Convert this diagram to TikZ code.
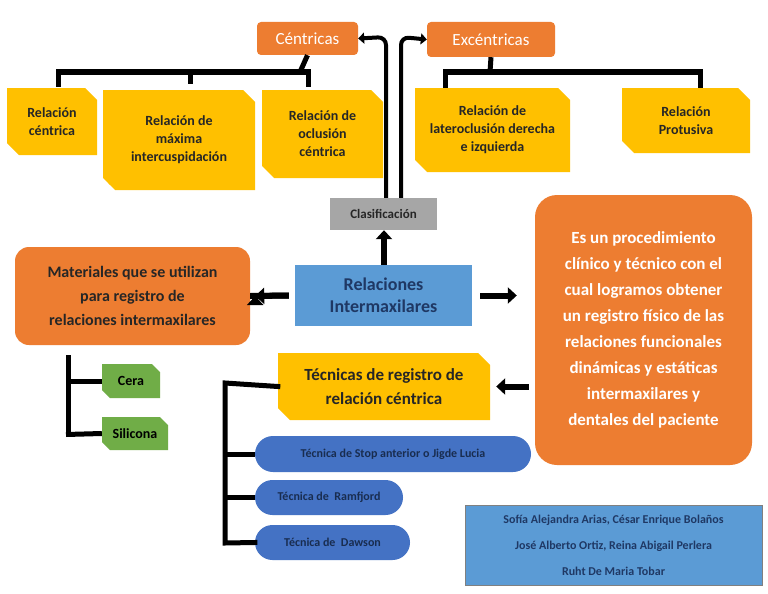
\documentclass[tikz,border=0pt]{standalone}
\usepackage{fontspec}
\setmainfont{Carlito}
\usetikzlibrary{shapes.misc,shapes.geometric,arrows.meta}
\definecolor{org}{HTML}{ED7D31}
\definecolor{yel}{HTML}{FFC000}
\definecolor{blu}{HTML}{4472C4}
\definecolor{lblu}{HTML}{5B9BD5}
\definecolor{grn}{HTML}{70AD47}
\definecolor{navy}{HTML}{1F3864}
\begin{document}
\begin{tikzpicture}[x=1pt,y=-1pt,
 every node/.style={inner sep=2pt,align=center,font=\bfseries},
 orng/.style={fill=org,rounded corners=4pt,text=white,draw=none},
 ybox/.style={chamfered rectangle,chamfered rectangle corners={north east,south west},chamfered rectangle xsep=6pt,chamfered rectangle ysep=6pt,fill=yel,draw=none,text=black!85,font=\bfseries\fontsize{14}{18}\selectfont},
 gbox/.style={chamfered rectangle,chamfered rectangle corners={north east,south west},chamfered rectangle xsep=4pt,chamfered rectangle ysep=4pt,fill=grn,draw=none,font=\bfseries\fontsize{14}{17}\selectfont},
 ell/.style={rounded rectangle,fill=blu,draw=none,text=navy!80!black,font=\bfseries\fontsize{12}{14}\selectfont},
 brk/.style={line width=5pt},
 barr/.style={line width=6pt,-{Triangle[width=16pt,length=9pt]}},
 carr/.style={line width=4pt,-{Triangle[width=11pt,length=6pt]},rounded corners=8pt}]
\useasboundingbox (0,0) rectangle (768,594);
\fill[white] (0,0) rectangle (768,594);
% top
\node[orng,minimum width=101pt,minimum height=33pt,font=\fontsize{17}{20}\selectfont] (cen) at (307.5,38.5) {Céntricas};
\node[orng,minimum width=128pt,minimum height=35pt,font=\fontsize{17}{20}\selectfont] (exc) at (491,39.5) {Excéntricas};
\node[ybox,minimum width=90pt,minimum height=67pt] (rc) at (52,121.5) {Relación\\céntrica};
\node[ybox,minimum width=152pt,minimum height=100pt] (rm) at (179,140) {Relación de\\máxima\\intercuspidación};
\node[ybox,minimum width=121pt,minimum height=88pt] (ro) at (322.5,134) {Relación de\\oclusión\\céntrica};
\node[ybox,minimum width=155pt,minimum height=84pt] (rl) at (492.5,130) {Relación de\\lateroclusión derecha\\e izquierda};
\node[ybox,minimum width=128pt,minimum height=65pt] (rp) at (686,120.5) {Relación\\Protusiva};
\draw[brk] (cen.south) -- (300,72) coordinate (cj);
\draw[brk,line cap=rect] (58,84) |- (308,72) -- (308,84);
\draw[brk] (190,72) -- (190,84);
\draw[brk] (exc.south) -- (490,72);
\draw[brk,line cap=rect] (445,85) |- (700,72) -- (700,85);
% centre
\node[fill=black!35,minimum width=107pt,minimum height=32pt,font=\bfseries\fontsize{13}{15}\selectfont,text=black!85] (cla) at (383.5,214) {Clasificación};
\draw[carr] (cla.north -| 386,0) -- (386,37) -- (cen.east);
\draw[carr] (cla.north -| 401,0) -- (401,37) -- (exc.west);
\node[fill=lblu,minimum width=177pt,minimum height=61pt,text=navy,font=\bfseries\fontsize{18}{22}\selectfont] (ri) at (383.5,295.5) {Relaciones\\Intermaxilares};
\draw[barr] (ri.north -| 384,0) -- (cla.south -| 384,0);
\node[orng,rounded corners=14pt,minimum width=235pt,minimum height=98pt,text=black!85,font=\bfseries\fontsize{16}{24}\selectfont] (mat) at (132.5,296) {Materiales que se utilizan\\para registro de\\relaciones intermaxilares};
\node[orng,rounded corners=22pt,minimum width=217pt,minimum height=270pt,text=white,font=\bfseries\fontsize{17}{26}\selectfont] (pro) at (643.5,330) {Es un procedimiento\\clínico y técnico con el\\cual logramos obtener\\un registro físico de las\\relaciones funcionales\\dinámicas y estáticas\\intermaxilares y\\dentales del paciente};
\draw[barr] (ri.west) ++(-6,0) coordinate (a1) -- (mat.east) ++(5,0);
\draw[barr] ([xshift=-6pt]ri.west) -- ([xshift=5pt]mat.east);
\draw[barr] ([xshift=8pt]ri.east) -- ([xshift=-18pt]pro.west |- ri.east);
\node[ybox,minimum width=212pt,minimum height=67pt,font=\bfseries\fontsize{17}{24}\selectfont] (tec) at (384,386.5) {Técnicas de registro de\\relación céntrica};
\draw[barr] ([xshift=-6pt]pro.west |- tec.east) -- ([xshift=6pt]tec.east);
% materials
\node[gbox,minimum width=58pt,minimum height=34pt] (cer) at (131,381) {Cera};
\node[gbox,minimum width=66pt,minimum height=33pt] (sil) at (135,433.5) {Silicona};
\draw[brk] (68,355) -- (68,437);
\draw[brk] (66,381) -- (cer.west);
\draw[brk] (66,434.5) -- (sil.west);
% techniques
\node[ell,minimum width=280pt,minimum height=36pt] (t1) at (393,454) {Técnica de Stop anterior o Jigde Lucia};
\node[ell,minimum width=152pt,minimum height=35pt] (t2) at (329,497.5) {Técnica de~ Ramfjord};
\node[ell,minimum width=159pt,minimum height=35pt] (t3) at (332.5,542.5) {Técnica de~ Dawson};
\draw[brk,line cap=rect] (tec.west) -- (225,383) -- (225,543) -- (t3.west);
\draw[brk] (225,454) -- (t1.west);
\draw[brk] (225,497.5) -- (t2.west);
% authors
\node[fill=lblu,draw=black!50,minimum width=297pt,minimum height=80pt,text=navy,font=\bfseries\fontsize{12}{26}\selectfont] (aut) at (613.5,545) {Sofía Alejandra Arias, César Enrique Bolaños\\José Alberto Ortiz, Reina Abigail Perlera\\Ruht De Maria Tobar};
\end{tikzpicture}
\end{document}
